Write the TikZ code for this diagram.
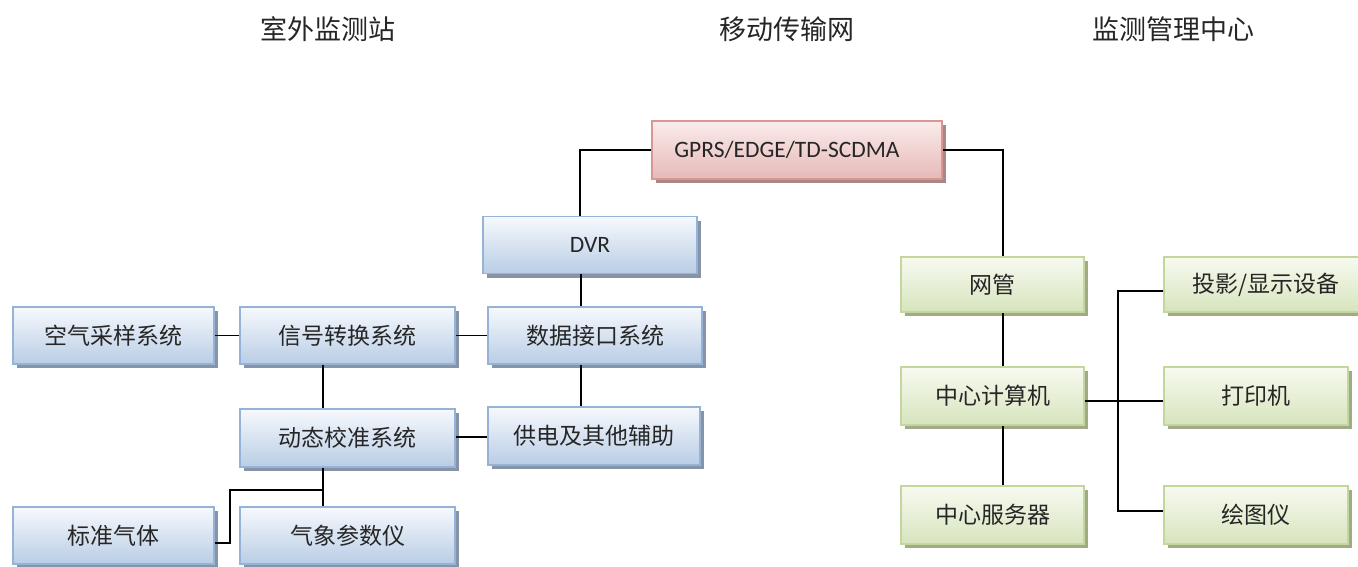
\documentclass[tikz,border=0pt]{standalone}
\usepackage{fontspec}
\setmainfont{Carlito}
\newfontfamily\cjk{Noto Sans CJK SC}
\usetikzlibrary{shadows}
\definecolor{bborder}{RGB}{149,179,215}
\definecolor{btop}{RGB}{246,249,253}
\definecolor{bbot}{RGB}{185,205,229}
\definecolor{bshadow}{RGB}{135,148,168}
\definecolor{rborder}{RGB}{217,150,148}
\definecolor{rtop}{RGB}{250,236,235}
\definecolor{rbot}{RGB}{230,185,184}
\definecolor{rshadow}{RGB}{170,135,135}
\definecolor{gborder}{RGB}{195,214,155}
\definecolor{gtop}{RGB}{247,250,240}
\definecolor{gbot}{RGB}{215,228,189}
\definecolor{gshadow}{RGB}{160,170,135}
\tikzset{
  basebox/.style={rectangle, line width=1.5pt, inner sep=0pt, font=\cjk\fontsize{23}{26}\selectfont, text=black!85},
  bluebox/.style={basebox, draw=bborder, top color=btop, bottom color=bbot,
    drop shadow={shadow xshift=3.5pt, shadow yshift=-4pt, fill=bshadow, opacity=1}},
  redbox/.style={basebox, draw=rborder, top color=rtop, bottom color=rbot,
    drop shadow={shadow xshift=3.5pt, shadow yshift=-4pt, fill=rshadow, opacity=1}},
  greenbox/.style={basebox, draw=gborder, top color=gtop, bottom color=gbot,
    drop shadow={shadow xshift=3.5pt, shadow yshift=-4pt, fill=gshadow, opacity=1}},
  conn/.style={line width=1.8pt, black},
  header/.style={font=\cjk\fontsize{27}{30}\selectfont, text=black!85, inner sep=0pt}
}
\begin{document}
\begin{tikzpicture}[x=1pt, y=-1pt]
\useasboundingbox (0,0) rectangle (1358,567);
\clip (0,0) rectangle (1358,567);
% headers
\node[header] (h1) at (328,29) {室外监测站};
\node[header] (h2) at (787,29) {移动传输网};
\node[header] (h3) at (1173,29) {监测管理中心};
% boxes
\node[redbox, minimum width=290pt, minimum height=58pt, font=\fontsize{23.5}{26}\selectfont] (gprs) at (797,150) {\hspace*{-20pt}GPRS/EDGE/TD-SCDMA};
\node[bluebox, minimum width=214pt, minimum height=57pt, font=\fontsize{23.5}{26}\selectfont] (dvr) at (590,245) {DVR};
\node[bluebox, minimum width=201pt, minimum height=57pt] (kq) at (113.5,335.5) {空气采样系统};
\node[bluebox, minimum width=215pt, minimum height=57pt] (xh) at (347.5,335.5) {信号转换系统};
\node[bluebox, minimum width=214pt, minimum height=57pt] (sj) at (595,335.5) {数据接口系统};
\node[bluebox, minimum width=215pt, minimum height=58pt] (dt) at (347.5,438) {动态校准系统};
\node[bluebox, minimum width=212pt, minimum height=58pt] (gd) at (594,436) {供电及其他辅助};
\node[bluebox, minimum width=201pt, minimum height=57pt] (bz) at (113.5,535.5) {标准气体};
\node[bluebox, minimum width=215pt, minimum height=57pt] (qx) at (347.5,535.5) {气象参数仪};
\node[greenbox, minimum width=183pt, minimum height=55pt] (wg) at (992.5,284.5) {网管};
\node[greenbox, minimum width=183pt, minimum height=58pt] (zj) at (992.5,396) {中心计算机};
\node[greenbox, minimum width=183pt, minimum height=58pt] (zf) at (992.5,515) {中心服务器};
\node[greenbox, minimum width=204pt, minimum height=55pt] (ty) at (1266,284.5) {投影/显示设备};
\node[greenbox, minimum width=184pt, minimum height=58pt] (dy) at (1256,396) {打印机};
\node[greenbox, minimum width=184pt, minimum height=58pt] (ht) at (1256,515) {绘图仪};
% connectors
\draw[conn] (gprs.west) -| ([xshift=-10pt]dvr.north);
\draw[conn] (gprs.east) -| ([xshift=10.5pt]wg.north);
\draw[conn] ([xshift=-14pt]sj.north) -- ([xshift=-14pt]sj.north |- dvr.south);
\draw[conn] ([xshift=-14pt]sj.south) -- ([xshift=-14pt]sj.south |- gd.north);
\draw[conn] (kq.east) -- (xh.west);
\draw[conn] (xh.east) -- (sj.west);
\draw[conn] ([xshift=-24.5pt]xh.south) -- ([xshift=-24.5pt]dt.north);
\draw[conn] ([yshift=1pt]dt.east) -- ([yshift=1pt]dt.east -| gd.west);
\draw[conn] ([xshift=-24.5pt]dt.south) -- ([xshift=-24.5pt]qx.north);
\draw[conn] ([xshift=-24.5pt,yshift=-22pt]dt.south) -| ([xshift=15pt,yshift=-7.5pt]bz.east) -- ([yshift=-7.5pt]bz.east);
\draw[conn] ([xshift=10.5pt]wg.south) -- ([xshift=10.5pt]zj.north);
\draw[conn] ([xshift=10.5pt]zj.south) -- ([xshift=10.5pt]zf.north);
\draw[conn] ([yshift=-5pt]zj.east) -- ([yshift=-5pt]zj.east -| dy.west);
\draw[conn] ([yshift=-6.5pt]ty.west) -- ++(-45pt,0) |- ([yshift=4pt]ht.west);
\end{tikzpicture}
\end{document}
